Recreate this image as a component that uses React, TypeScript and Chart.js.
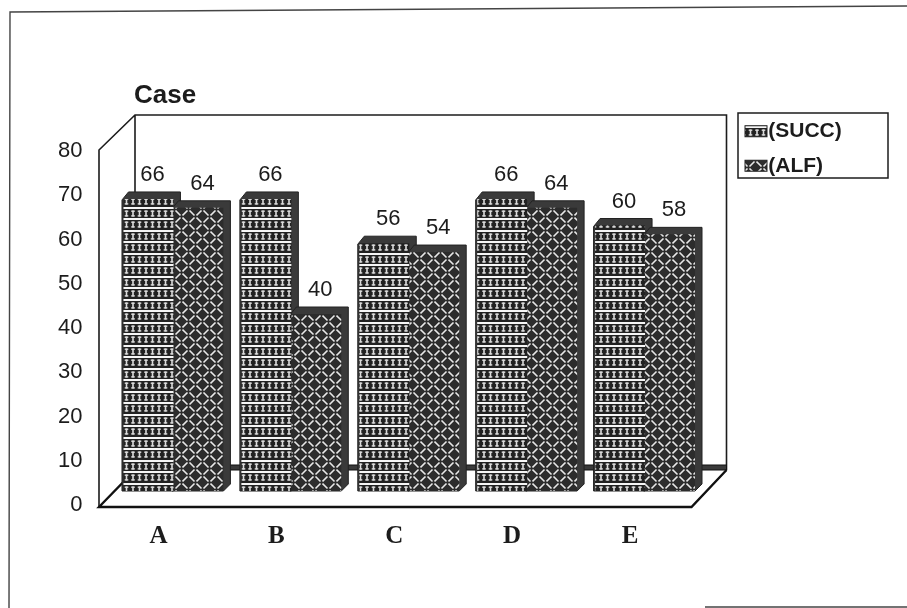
import React, { useEffect, useRef } from "react";
import { Chart, registerables } from "chart.js";

Chart.register(...registerables);

const categories = ["A", "B", "C", "D", "E"];
const succValues = [66, 66, 56, 66, 60];
const alfValues = [64, 40, 54, 64, 58];
const yTicks = [0, 10, 20, 30, 40, 50, 60, 70, 80];
const seriesNames = ["(SUCC)", "(ALF)"];
const chartTitle = "Case";

const INK = "#1c1c1c";
const DARK = "#3a3a3a";
const DEPTH = 7;
const LEGEND_PAD = 13.5;
const LEGEND_SIZE = 21;

function makeSuccPattern(ctx: CanvasRenderingContext2D) {
  const t = document.createElement("canvas");
  t.width = 13;
  t.height = 23;
  const c = t.getContext("2d")!;
  c.fillStyle = "#222";
  c.fillRect(0, 0, 13, 23);
  for (let row = 0; row < 2; row++) {
    const y = row === 0 ? 0 : 11;
    c.fillStyle = "#f6f6f6";
    c.fillRect(0, y, 13, 2);
    c.fillStyle = "#dcdcdc";
    for (let k = 0; k < 2; k++) {
      const x = 1.2 + k * 6.5;
      c.fillRect(x, y + 3.5, 3.6, 1.4);
      c.fillRect(x + 1, y + 3.5, 1.6, 6);
      c.fillRect(x, y + 8.2, 3.6, 1.4);
    }
  }
  return ctx.createPattern(t, "repeat")!;
}

function makeAlfPattern(ctx: CanvasRenderingContext2D) {
  const t = document.createElement("canvas");
  t.width = 14;
  t.height = 14;
  const c = t.getContext("2d")!;
  c.fillStyle = "#2c2c2c";
  c.fillRect(0, 0, 14, 14);
  c.strokeStyle = "#e8e8e8";
  c.lineWidth = 1.6;
  c.lineCap = "butt";
  const strokes = [
    [0.5, 5.5, 5.5, 0.5],
    [7.5, 12.5, 12.5, 7.5],
    [7.5, 0.5, 12.5, 5.5],
    [0.5, 7.5, 5.5, 12.5],
  ];
  for (const [a, b, d, e] of strokes) {
    c.beginPath();
    c.moveTo(a, b);
    c.lineTo(d, e);
    c.stroke();
  }
  return ctx.createPattern(t, "repeat")!;
}

const framePlugin = {
  id: "frame3d",
  beforeDraw(chart: any) {
    const { titleBlock, legend } = chart;
    if (titleBlock) {
      const w = titleBlock.right - titleBlock.left;
      titleBlock.left = 134;
      titleBlock.right = 134 + w;
    }
    if (legend) {
      legend.left = 732.25;
      legend.right = 888;
      legend.top = 107.25;
      legend.bottom = 300;
    }
  },
  beforeDatasetsDraw(chart: any) {
    const { ctx, chartArea: a } = chart;
    ctx.save();
    ctx.lineJoin = "miter";
    ctx.lineWidth = 1.4;
    ctx.strokeStyle = "#444";
    ctx.beginPath();
    ctx.moveTo(9, 608);
    ctx.lineTo(10, 12);
    ctx.lineTo(907, 6);
    ctx.stroke();
    ctx.beginPath();
    ctx.moveTo(705, 607);
    ctx.lineTo(907, 607);
    ctx.stroke();

    const backL = a.left + 20.5;
    const backR = a.right + 22.5;
    const backT = a.top - 22;
    const backB = a.bottom - 21;
    const frontL = a.left - 15.5;
    const frontR = a.right - 12.5;
    const frontT = a.top + 13;
    const frontB = a.bottom + 16;

    ctx.strokeStyle = INK;
    ctx.lineWidth = 1.6;
    ctx.beginPath();
    ctx.moveTo(frontL, frontB);
    ctx.lineTo(frontL, frontT);
    ctx.lineTo(backL, backT);
    ctx.lineTo(backR, backT);
    ctx.lineTo(backR, backB);
    ctx.moveTo(backL, backT);
    ctx.lineTo(backL, backB);
    ctx.stroke();

    ctx.fillStyle = DARK;
    ctx.fillRect(backL, backB - 5, backR - backL, 5);
    ctx.strokeStyle = "#111";
    ctx.lineWidth = 1;
    ctx.strokeRect(backL, backB - 5, backR - backL, 5);

    ctx.strokeStyle = "#111";
    ctx.lineWidth = 2.4;
    ctx.beginPath();
    ctx.moveTo(backL, backB);
    ctx.lineTo(frontL, frontB);
    ctx.lineTo(frontR, frontB);
    ctx.lineTo(backR, backB);
    ctx.stroke();

    ctx.fillStyle = DARK;
    ctx.strokeStyle = "#222";
    ctx.lineWidth = 1;
    chart.data.datasets.forEach((_: any, i: number) => {
      chart.getDatasetMeta(i).data.forEach((bar: any) => {
        const l = bar.x - bar.width / 2;
        const r = bar.x + bar.width / 2;
        ctx.beginPath();
        ctx.moveTo(l - 1.5, bar.y + 1);
        ctx.lineTo(l + DEPTH - 2, bar.y - DEPTH);
        ctx.lineTo(r + DEPTH, bar.y - DEPTH);
        ctx.lineTo(r + DEPTH, bar.base - DEPTH);
        ctx.lineTo(r, bar.base);
        ctx.lineTo(l - 1.5, bar.base);
        ctx.closePath();
        ctx.fill();
        ctx.stroke();
      });
    });
    ctx.restore();
  },
  afterDatasetsDraw(chart: any) {
    const { ctx } = chart;
    ctx.save();
    ctx.fillStyle = INK;
    ctx.font = '22px "Liberation Sans"';
    ctx.textAlign = "center";
    ctx.textBaseline = "middle";
    chart.data.datasets.forEach((ds: any, i: number) => {
      chart.getDatasetMeta(i).data.forEach((bar: any, j: number) => {
        ctx.fillText(String(ds.data[j]), bar.x + 4, bar.y - 24);
      });
    });
    ctx.restore();
  },
  afterDraw(chart: any) {
    const { ctx, legend } = chart;
    if (!legend) return;
    ctx.save();
    ctx.strokeStyle = INK;
    ctx.lineWidth = 1.5;
    ctx.strokeRect(738, 113, 150, 65);
    // wider swatches, over the narrow ones the legend leaves beside its text
    chart.data.datasets.forEach((ds: any, i: number) => {
      const cy = legend.top + LEGEND_PAD + LEGEND_SIZE / 2 + i * (LEGEND_SIZE + LEGEND_PAD);
      ctx.fillStyle = "#fff";
      ctx.fillRect(744, cy - 9, 24, 18);
      ctx.fillStyle = ds.backgroundColor;
      ctx.fillRect(745, cy - 5.5, 22, 11);
      ctx.lineWidth = 1;
      ctx.strokeStyle = "#222";
      ctx.strokeRect(745, cy - 5.5, 22, 11);
    });
    ctx.restore();
  },
};

export default function App() {
  const ref = useRef<HTMLCanvasElement>(null);
  useEffect(() => {
    const canvas = ref.current!;
    const ctx = canvas.getContext("2d")!;
    const succ = makeSuccPattern(ctx);
    const alf = makeAlfPattern(ctx);
    const legendFont = '"Liberation Sans"';
    const boxW = 12;
    ctx.font = `bold ${LEGEND_SIZE}px ${legendFont}`;
    const textW = Math.max(...seriesNames.map((n) => ctx.measureText(n).width));
    const legendW = LEGEND_PAD * 2 + boxW + LEGEND_SIZE / 2 + textW;
    const chart = new Chart(canvas, {
      type: "bar",
      data: {
        labels: categories,
        datasets: [
          { label: seriesNames[0], data: succValues, backgroundColor: succ, borderWidth: 0 },
          { label: seriesNames[1], data: alfValues, backgroundColor: alf, borderWidth: 0 },
        ],
      },
      options: {
        animation: false,
        responsive: false,
        devicePixelRatio: 1,
        layout: { padding: { left: 34.5, right: 206.5 - legendW, top: 80.4, bottom: 0 } },
        datasets: { bar: { categoryPercentage: 100 / 118, barPercentage: 1 } },
        scales: {
          x: {
            grid: { display: false, drawTicks: false },
            border: { display: false },
            afterFit: (s: any) => {
              s.height = 117;
            },
            ticks: {
              padding: 31,
              labelOffset: -15,
              color: INK,
              font: { family: '"Liberation Serif"', size: 25, weight: "bold" },
            },
          },
          y: {
            min: 0,
            max: 80,
            grid: { display: false, drawTicks: false },
            border: { display: false },
            afterFit: (s: any) => {
              s.width = 80;
            },
            afterBuildTicks: (s: any) => {
              s.ticks = yTicks.map((value) => ({ value }));
            },
            ticks: {
              padding: 32,
              labelOffset: 14,
              color: INK,
              font: { family: '"Liberation Sans"', size: 22 },
            },
          },
        },
        plugins: {
          tooltip: { enabled: false },
          title: {
            display: true,
            text: chartTitle,
            align: "start",
            color: INK,
            font: { family: '"Liberation Sans"', size: 26, weight: "bold" },
            padding: { top: 0, bottom: 25.4 },
          },
          legend: {
            display: true,
            position: "right",
            align: "start",
            labels: {
              boxWidth: boxW,
              boxHeight: 10,
              padding: LEGEND_PAD,
              color: INK,
              font: { family: legendFont, size: LEGEND_SIZE, weight: "bold" },
            },
          },
        },
      },
      plugins: [framePlugin],
    } as any);
    return () => chart.destroy();
  }, []);
  return (
    <div style={{ position: "fixed", left: 0, top: 0, width: 907, height: 608, background: "#fff" }}>
      <canvas ref={ref} width={907} height={608} style={{ display: "block" }} />
    </div>
  );
}
